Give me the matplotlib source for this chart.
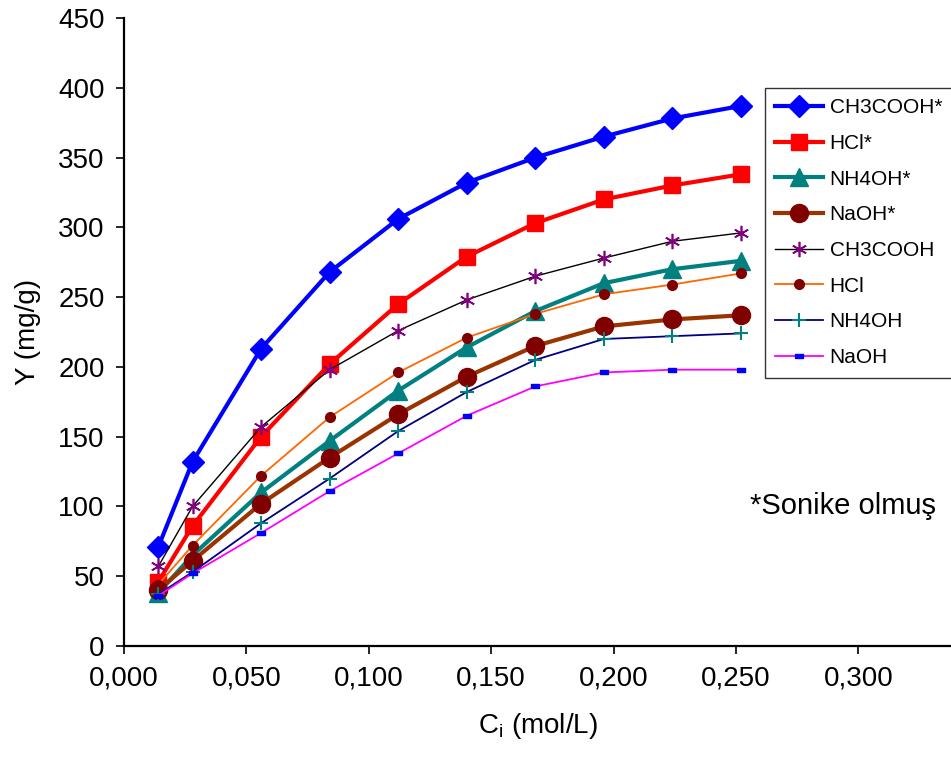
import numpy as np
import matplotlib.pyplot as plt
from matplotlib.ticker import FuncFormatter

plt.rcParams['font.family'] = ['Liberation Sans', 'DejaVu Sans']

# konsantrasyon (mol/L)
ci = [0.014, 0.028, 0.056, 0.084, 0.112, 0.140, 0.168, 0.196, 0.224, 0.252]

# sonike olmus (*)
ch3cooh_s = [71, 132, 213, 268, 306, 332, 350, 365, 378, 387]
hcl_s = [46, 86, 150, 202, 245, 279, 303, 320, 330, 338]
nh4oh_s = [38, 65, 110, 147, 183, 214, 240, 260, 270, 276]
naoh_s = [40, 61, 102, 135, 166, 193, 215, 229, 234, 237]

# normal
ch3cooh = [57, 100, 157, 198, 226, 248, 265, 278, 290, 296]
hcl = [44, 72, 122, 164, 196, 221, 238, 252, 259, 267]
nh4oh = [37, 53, 88, 120, 154, 182, 205, 220, 222, 224]
naoh = [36, 52, 81, 111, 138, 165, 186, 196, 198, 198]

dash_marker = [(-1, -0.45), (1, -0.45), (1, 0.45), (-1, 0.45), (-1, -0.45)]

series = [
    (ch3cooh_s, "CH3COOH*", dict(color="#0000FF", lw=3, marker="D", ms=11, mfc="#0000FF", mec="#0000FF")),
    (hcl_s, "HCl*", dict(color="#FF0000", lw=3, marker="s", ms=12, mfc="#FF0000", mec="#FF0000")),
    (nh4oh_s, "NH4OH*", dict(color="#008080", lw=3, marker="^", ms=13, mfc="#008080", mec="#008080")),
    (naoh_s, "NaOH*", dict(color="#993300", lw=3, marker="o", ms=13, mfc="#800000", mec="#800000")),
    (ch3cooh, "CH3COOH", dict(color="black", lw=1, marker=(6, 2, 0), ms=11, mfc="#800080", mec="#800080", mew=1.2)),
    (hcl, "HCl", dict(color="#FF6600", lw=1.3, marker="o", ms=7, mfc="#800000", mec="#800000")),
    (nh4oh, "NH4OH", dict(color="#000080", lw=1.3, marker="+", ms=10, mfc="#008080", mec="#008080", mew=1.5)),
    (naoh, "NaOH", dict(color="#FF00FF", lw=1.3, marker=dash_marker, ms=6, mfc="#0000FF", mec="#0000FF")),
]

fig = plt.figure(figsize=(9.51, 7.58), dpi=100)
ax = fig.add_axes([124 / 951, 1 - 646 / 758, (951 - 124) / 951, (646 - 18) / 758])

for ys, name, st in series:
    ax.plot(ci, ys, label=name, **st)

ax.set_xlim(0, 0.3378)
ax.set_ylim(0, 450)
ax.set_xticks(np.arange(0, 0.301, 0.05))
ax.set_yticks(np.arange(0, 451, 50))
ax.xaxis.set_major_formatter(FuncFormatter(lambda v, p: ("%.3f" % v).replace(".", ",")))

ax.spines["top"].set_visible(False)
ax.spines["right"].set_visible(False)
ax.spines["left"].set_linewidth(1.6)
ax.spines["bottom"].set_linewidth(1.6)
ax.tick_params(direction="out", length=6, width=1.2, labelsize=20, pad=8)

ax.set_ylabel("Y (mg/g)", fontsize=20, labelpad=12)
ax.set_xlabel("C$_\\mathregular{i}$ (mol/L)", fontsize=20, labelpad=14)

ax.text(0.2935, 100, "*Sonike olmuş", fontsize=21, ha="center", va="center")

leg = fig.legend(loc="upper left", bbox_to_anchor=(765 / 951, 1 - 88 / 758),
                 bbox_transform=fig.transFigure, fontsize=15, frameon=True,
                 fancybox=False, edgecolor="black", borderaxespad=0,
                 handlelength=2.3, handletextpad=0.3, labelspacing=0.8,
                 borderpad=0.5)
leg.get_frame().set_linewidth(1.0)

fig.savefig("out.png", dpi=100)
